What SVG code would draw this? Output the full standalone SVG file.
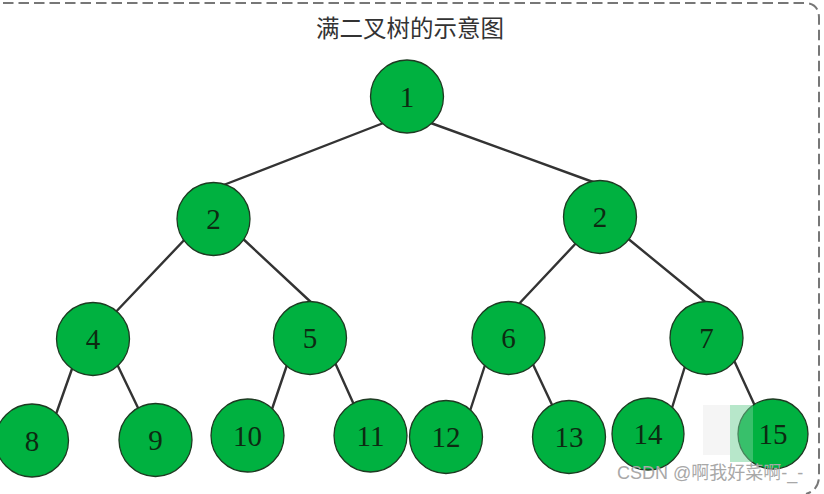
<svg xmlns="http://www.w3.org/2000/svg" width="824" height="494" viewBox="0 0 824 494">
<style>
.node circle{fill:#00b140;stroke:#1e3a22;stroke-width:1.3}
.node text{font-family:"Liberation Serif","DejaVu Serif",serif;font-size:29px;fill:#0d2a12;text-anchor:middle}
.edges line{stroke:#333;stroke-width:2.4;stroke-linecap:round}
.title{font-family:"Noto Sans CJK SC",sans-serif;font-size:23.5px;fill:#333;text-anchor:middle}
.wm{font-family:"Liberation Sans","Noto Sans CJK SC",sans-serif;font-size:18px;fill:#a8a8a8}
</style>
<rect width="824" height="494" fill="#fff"/>
<path d="M3,3 H804 Q819,3 819,18 V476 Q819,490 806,494" fill="none" stroke="#777" stroke-width="2" stroke-dasharray="10.5,5"/>
<text class="title" x="410" y="37">满二叉树的示意图</text>
<g class="edges">
<line x1="386" y1="122" x2="221" y2="186"/>
<line x1="428" y1="122" x2="604" y2="186"/>
<line x1="188" y1="236" x2="111" y2="317"/>
<line x1="241" y1="237" x2="314" y2="305"/>
<line x1="579" y1="240" x2="516" y2="307"/>
<line x1="626" y1="237" x2="709" y2="305"/>
<line x1="73" y1="366" x2="55" y2="417"/>
<line x1="116" y1="362" x2="140" y2="412"/>
<line x1="288" y1="362" x2="271" y2="412"/>
<line x1="332" y1="356" x2="355" y2="407"/>
<line x1="486" y1="362" x2="469" y2="414"/>
<line x1="530" y1="358" x2="554" y2="409"/>
<line x1="687" y1="360" x2="671" y2="411"/>
<line x1="732" y1="356" x2="755" y2="406"/>
</g>
<g id="n1" class="node"><circle cx="407" cy="96.5" r="36.5"/><text x="407" y="106.5">1</text></g>
<g id="n2a" class="node"><circle cx="213.5" cy="219" r="36.5"/><text x="213.5" y="229">2</text></g>
<g id="n2b" class="node"><circle cx="600" cy="217" r="36.5"/><text x="600" y="227">2</text></g>
<g id="n4" class="node"><circle cx="93" cy="339" r="36.5"/><text x="93" y="349">4</text></g>
<g id="n5" class="node"><circle cx="310" cy="338" r="36.5"/><text x="310" y="348">5</text></g>
<g id="n6" class="node"><circle cx="508.5" cy="338" r="36.5"/><text x="508.5" y="348">6</text></g>
<g id="n7" class="node"><circle cx="706.5" cy="338" r="36.5"/><text x="706.5" y="348">7</text></g>
<g id="n8" class="node"><circle cx="32" cy="440.5" r="36.5"/><text x="32" y="450.5">8</text></g>
<g id="n9" class="node"><circle cx="155.5" cy="440" r="36.5"/><text x="155.5" y="450">9</text></g>
<g id="n10" class="node"><circle cx="247.5" cy="435.5" r="36.5"/><text x="247.5" y="445.5">10</text></g>
<g id="n11" class="node"><circle cx="370.5" cy="435.5" r="36.5"/><text x="370.5" y="445.5">11</text></g>
<g id="n12" class="node"><circle cx="446" cy="437" r="36.5"/><text x="446" y="447">12</text></g>
<g id="n13" class="node"><circle cx="569" cy="437" r="36.5"/><text x="569" y="447">13</text></g>
<g id="n14" class="node"><circle cx="648" cy="434" r="36"/><text x="648" y="444">14</text></g>
<g id="n15" class="node"><circle cx="773" cy="434" r="35"/><text x="773" y="444">15</text></g>
<rect x="703" y="405" width="27" height="50" fill="#f4f4f4" opacity="0.9"/>
<rect x="730" y="405" width="23" height="57" fill="#6fcf95" opacity="0.5"/>
<text class="wm" x="617" y="479">CSDN @啊我好菜啊-_-</text>
</svg>
